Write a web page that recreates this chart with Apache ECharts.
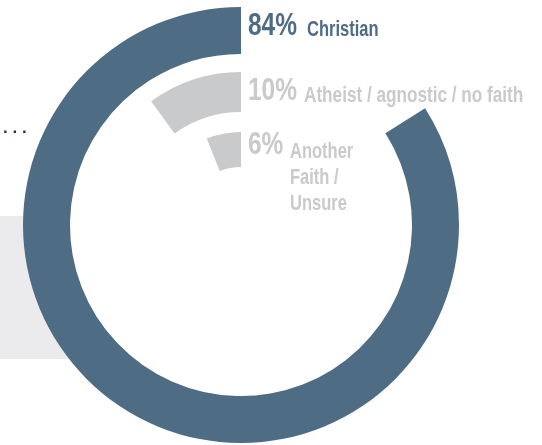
<!DOCTYPE html>
<html>
<head>
<meta charset="utf-8">
<script src="https://cdn.jsdelivr.net/npm/echarts@6/dist/echarts.min.js"></script>
<style>
html,body{margin:0;padding:0;background:#fff;}
#c{width:542px;height:445px;}
</style>
</head>
<body>
<div id="c"></div>
<script>
// Data
const categories = ['Christian', 'Atheist / agnostic / no faith', 'Another\nFaith /\nUnsure'];
const values = [84, 10, 6];
const colors = ['#4e6c84', '#c9cacc', '#c9cacc'];

// Layout (not data)
const CX = 241, CY = 225;
const ringRadii = [[171, 218], [113, 153], [58, 93]];
const FONT = "'Liberation Sans', Arial, sans-serif";
const pctY = [26, 91.5, 145.5];
const nameX = [307, 304, 290];
const nameY = [17, 82.5, 139];
const nameScale = [0.75, 0.78, 0.75];

const chart = echarts.init(document.getElementById('c'), null, {renderer: 'canvas'});

const polar = [], angleAxis = [], radiusAxis = [], series = [];
values.forEach((v, i) => {
  polar.push({center: [CX, CY], radius: ringRadii[i]});
  angleAxis.push({polarIndex: i, type: 'value', min: 0, max: 100, startAngle: 90, clockwise: false, show: false});
  radiusAxis.push({polarIndex: i, type: 'category', data: [categories[i]], show: false});
  series.push({
    type: 'bar', coordinateSystem: 'polar', polarIndex: i,
    data: [v], barWidth: '100%', barCategoryGap: '0%',
    itemStyle: {color: colors[i]}, silent: true, animation: false, z: 5
  });
});

const graphic = [
  {type: 'rect', shape: {x: 0, y: 216, width: 160, height: 143}, style: {fill: '#ebebed'}, z: 0},
  {type: 'circle', shape: {cx: CX, cy: CY, r: 172}, style: {fill: '#ffffff'}, z: 1},
  {type: 'text', x: 3, y: 128, style: {text: '. . .', fill: '#1b3350', font: "bold 17px " + FONT, verticalAlign: 'middle'}, z: 10}
];
values.forEach((v, i) => {
  graphic.push({type: 'text', x: 248, y: pctY[i], z: 10, scaleX: 0.79,
    style: {text: v + '%', fill: colors[i], font: "bold 31px " + FONT, verticalAlign: 'middle', align: 'left'}});
  graphic.push({type: 'text', x: nameX[i], y: nameY[i], z: 10, scaleX: nameScale[i],
    style: {text: categories[i], fill: colors[i], font: "bold 22px " + FONT, verticalAlign: 'top', align: 'left', lineHeight: 26}});
});

chart.setOption({
  animation: false,
  polar, angleAxis, radiusAxis, series, graphic
});
</script>
</body>
</html>
